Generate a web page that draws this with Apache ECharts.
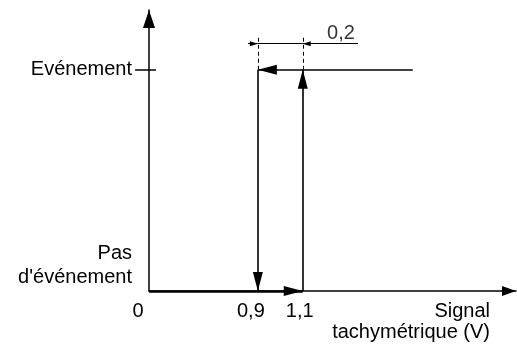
<!DOCTYPE html>
<html><head><meta charset="utf-8">
<script src="https://cdn.jsdelivr.net/npm/echarts@6/dist/echarts.min.js"></script>
<style>html,body{margin:0;padding:0;background:#fff}#c{width:517px;height:347px}</style>
</head><body><div id="c"></div>
<script>
// ---------------- data ----------------
const xTickValues = [0, 0.9, 1.1];
const xTickLabels = ['0', '0,9', '1,1'];
const levelValues = [0, 1];
const levelLabels = ["Pas\nd'événement", 'Evénement'];
const thresholdOff = 0.9;      // Evénement -> Pas d'événement (falling signal)
const thresholdOn = 1.1;       // Pas d'événement -> Evénement (rising signal)
const hysteresisLabel = '0,2';
const signalHigh = 1.59;       // start of the falling-signal arrow
const xAxisName = 'Signal\ntachymétrique (V)';
// the drawn axis is broken: its origin "0" stands directly before ~0.42 V
const xAxisStart = 0.415;
const xAxisEnd = 2.05;
const yAxisEnd = 1.27;
// dimension (cote) for the 0,2 V hysteresis
const dimLevel = 1.118, dimLeft = 0.856, dimRight = 1.346, extTop = 1.158;
const dimLabelPos = [1.27, 1.166];

// ---------------- styles ----------------
const FONT = '"Liberation Sans", Arial, sans-serif';
const INK = '#000';
const ARROW = 'path://M-19,0M19,0M0,19L5,38L-5,38Z';
const SMALL = 'path://M-8,0M8,0M0,8L2.5,16L-2.5,16Z';
const AX_Y = 'path://M-18,0M18,0M0,18L6,36L-6,36Z';
const AX_X = 'path://M-14,0M14,0M0,14L5,28L-5,28Z';

const x0 = xAxisStart; // plotted origin ("0")
const xTickPos = xTickValues.map(v => v === 0 ? x0 : v);
const pick = (vals, labels) => v => {
  const i = vals.findIndex(u => Math.abs(u - v) < 1e-6);
  return i >= 0 ? labels[i] : '';
};
const xLabel = pick(xTickPos, xTickLabels);
const pads = {'0': 22, '0,9': 14, '1,1': 6};

const chart = echarts.init(document.getElementById('c'), null, {renderer: 'canvas'});
chart.setOption({
  animation: false,
  backgroundColor: '#fff',
  grid: {left: 149, right: 1, top: 10, bottom: 56, containLabel: false},
  xAxis: {
    type: 'value', min: xAxisStart, max: xAxisEnd,
    axisLine: {lineStyle: {color: INK, width: 1.5}, symbol: ['none', AX_X], symbolSize: [28, 28]},
    axisTick: {show: false}, splitLine: {show: false},
    axisLabel: {
      customValues: xTickPos,
      formatter: v => { const t = xLabel(v); return t ? '{p' + t.replace(',', '') + '|' + t + '}' : ''; },
      margin: 10,
      rich: Object.fromEntries(xTickLabels.map(t => ['p' + t.replace(',', ''),
        {fontSize: 20, fontFamily: FONT, color: INK, lineHeight: 20, padding: [0, pads[t], 0, 0]}]))
    },
    name: xAxisName, nameLocation: 'end', nameGap: -26,
    nameTextStyle: {
      align: 'right', verticalAlign: 'top', fontSize: 20, fontFamily: FONT, color: INK,
      lineHeight: 21, padding: [10, 0, 0, 0]
    }
  },
  yAxis: [{
    type: 'value', min: 0, max: yAxisEnd,
    axisLine: {show: true, lineStyle: {color: INK, width: 1.5}, symbol: ['none', AX_Y], symbolSize: [36, 36]},
    axisTick: {show: false}, splitLine: {show: false},
    axisLabel: {customValues: [levelValues[1]], formatter: () => levelLabels[1],
      margin: 17, fontSize: 20, fontFamily: FONT, color: INK, padding: [0, 0, 4, 0]}
  }, {
    type: 'value', min: 0, max: yAxisEnd, position: 'left',
    axisLine: {show: false}, axisTick: {show: false}, splitLine: {show: false},
    axisLabel: {customValues: [levelValues[0]], formatter: () => levelLabels[0],
      margin: 17, fontSize: 20, fontFamily: FONT, color: INK, lineHeight: 24,
      verticalAlign: 'bottom', padding: [0, 0, 2, 0]}
  }],
  series: [
    { // hysteresis cycle
      type: 'lines', coordinateSystem: 'cartesian2d', polyline: false, clip: false,
      symbol: ['none', ARROW], symbolSize: 38,
      lineStyle: {color: INK, width: 1.6, opacity: 1},
      data: [
        {coords: [[signalHigh, levelValues[1]], [thresholdOff, levelValues[1]]]},
        {coords: [[thresholdOff, levelValues[1]], [thresholdOff, levelValues[0]]]},
        {coords: [[x0, levelValues[0]], [thresholdOn, levelValues[0]]], lineStyle: {width: 2.5}},
        {coords: [[thresholdOn, levelValues[0]], [thresholdOn, levelValues[1]]]}
      ]
    },
    { // extension lines (dashed)
      type: 'lines', coordinateSystem: 'cartesian2d', clip: false, symbol: 'none',
      lineStyle: {color: INK, width: 1, type: [4, 3], opacity: 1},
      data: [
        {coords: [[thresholdOff, levelValues[1]], [thresholdOff, extTop]]},
        {coords: [[thresholdOn, levelValues[1]], [thresholdOn, extTop]]}
      ]
    },
    { // dimension line arrows
      type: 'lines', coordinateSystem: 'cartesian2d', clip: false,
      symbol: ['none', SMALL], symbolSize: 16,
      lineStyle: {color: INK, width: 1, opacity: 1},
      data: [
        {coords: [[dimLeft, dimLevel], [thresholdOff, dimLevel]]},
        {coords: [[dimRight, dimLevel], [thresholdOn, dimLevel]]}
      ]
    },
    { // plain segments: dimension middle + tick at "Evénement"
      type: 'lines', coordinateSystem: 'cartesian2d', clip: false, symbol: 'none',
      lineStyle: {color: INK, width: 1, opacity: 1},
      data: [
        {coords: [[thresholdOff, dimLevel], [thresholdOn, dimLevel]]},
        {coords: [[x0 - 0.062, levelValues[1]], [x0 + 0.031, levelValues[1]]], lineStyle: {width: 1.5}}
      ]
    },
    { // hysteresis value label
      type: 'scatter', symbolSize: 1, itemStyle: {color: 'rgba(0,0,0,0)'},
      label: {show: true, position: 'inside', formatter: hysteresisLabel,
        fontSize: 20, fontFamily: FONT, color: INK},
      data: [dimLabelPos]
    }
  ]
});
</script></body></html>
